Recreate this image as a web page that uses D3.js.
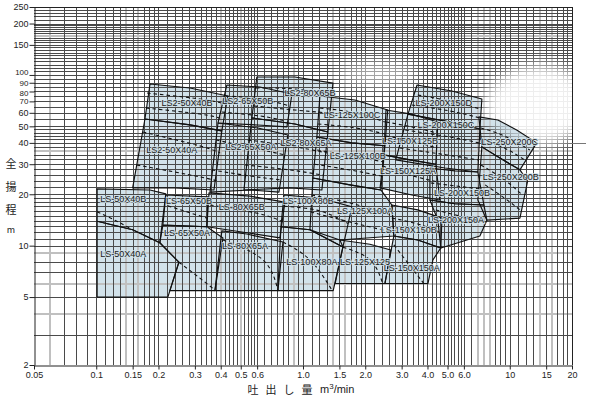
<!DOCTYPE html>
<html><head><meta charset="utf-8">
<script src="https://cdn.jsdelivr.net/npm/d3@7"></script>
<style>body{margin:0;background:#fff}svg{display:block}</style>
</head><body><svg id="c" width="600" height="400"></svg>
<script>
// ---------- axis data ----------
const xTickValues=[0.05,0.1,0.15,0.2,0.3,0.4,0.5,0.6,1,1.5,2,3,4,5,6,10,15,20];
const xTickLabels=["0.05","0.1","0.15","0.2","0.3","0.4","0.5","0.6","1.0","1.5","2.0","3.0","4.0","5.0","6.0","10","15","20"];
const yTickValues=[2,5,10,20,30,40,50,60,70,80,90,100,150,200,250];
const xGridBlack=[0.07,0.08,0.09,0.1,0.11,0.12,0.13,0.15,0.17,0.18,0.19,0.2,0.22,0.24,0.26,0.28,0.3,0.32,0.34,0.36,0.38,0.42,0.44,0.46,0.48,0.52,0.54,0.56,0.58,0.6,0.65,0.7,0.75,0.8,0.85,0.95,1,1.1,1.2,1.3,1.5,1.7,1.8,1.9,2,2.2,2.4,2.6,2.8,3,3.2,3.4,3.6,3.8,4,4.2,4.4,4.6,4.8,5,5.2,5.4,5.6,5.8,6,6.5,8.5,9,9.5,10,11,12,13,15,17,18,19];
const xGridGray=[0.06,0.14,0.16,0.4,0.5,0.9,1.4,1.6,7,7.5,8,14,16];
const yGridBlack=[3,5,7,8,10,11,12,13,14,15,16,17,18,19,20,22,24,26,28,30,32,34,38,40,42,44,46,48,50,55,60,65,70,75,80,85,90,95,100,105,110,115,120,125,130,135,140,145,150,155,160,165,175,180,185,190,195,200,210,220,230,240];
const yGridGray=[4,6,9,36,170];

// ---------- pump zones (Q m3/min, H m) ----------
const zoneNames=["LS-50X40A","LS-50X40B","LS-65X50B","LS-65X50A","LS-80X65B","LS-80X65A","LS-100X80A","LS-100X80B","LS-125X125","LS-150X150A","LS-150X150B",
"LS-125X100C","LS-125X100B","LS-125X100A","LS2-50X40B","LS2-50X40A","LS2-65X50B","LS2-65X50A","LS2-80X65B","LS2-80X65A",
"LS-150X125B","LS-150X125A","LS-200X150D","LS-200X150C","LS-200X150B","LS-200X150A","LS-250X200C","LS-250X200B"];
const zonePolygons=[
 [[0.101,5.0],[0.101,13.9],[0.15,12.4],[0.203,10.4],[0.251,8.0],[0.222,5.0]],
 [[0.101,13.9],[0.101,21.5],[0.182,21.2],[0.217,20.1],[0.203,10.4],[0.15,12.4]],
 [[0.217,19.8],[0.347,19.3],[0.343,12.9],[0.21,13.2]],
 [[0.21,13.2],[0.343,12.9],[0.41,11.1],[0.375,5.45],[0.227,5.45],[0.251,8.0],[0.203,10.4]],
 [[0.351,20.4],[0.554,19.5],[0.818,18.0],[0.773,11.1],[0.535,11.9],[0.343,12.9]],
 [[0.405,12.2],[0.535,11.7],[0.8,10.5],[0.756,5.45],[0.375,5.45]],
 [[0.782,12.9],[1.08,12.4],[1.56,9.83],[1.4,5.45],[0.756,5.45]],
 [[0.809,19.8],[1.207,19.0],[1.724,16.9],[1.56,9.83],[1.08,12.4],[0.782,12.9]],
 [[1.508,10.8],[2.107,10.2],[2.66,9.44],[2.49,6.0],[1.43,6.0],[1.56,9.83]],
 [[2.75,11.4],[3.59,10.8],[4.64,9.7],[4.25,8.25],[4.02,6.0],[2.49,6.0]],
 [[2.69,17.3],[3.59,16.2],[4.7,14.5],[4.64,9.7],[3.59,10.8],[2.75,11.4]],
 [[1.207,75.3],[1.782,71.3],[2.57,62.3],[2.49,38.5],[1.724,40.0],[1.167,43.3]],
 [[1.167,43.3],[1.724,40.0],[2.49,38.5],[2.38,21.2],[1.686,22.7],[1.117,24.9]],
 [[1.117,24.9],[1.686,22.7],[2.38,21.2],[2.69,17.3],[2.75,11.4],[1.508,10.8],[1.08,12.4]],
 [[0.182,88.5],[0.284,83.8],[0.433,75.3],[0.405,47.0],[0.284,51.0],[0.172,55.2]],
 [[0.172,55.2],[0.284,51.0],[0.405,47.0],[0.371,21.2],[0.24,21.8],[0.15,21.8]],
 [[0.428,87.3],[0.619,85.0],[0.884,77.3],[0.836,49.6],[0.605,50.9],[0.388,52.3]],
 [[0.388,52.3],[0.605,48.9],[0.845,44.5],[0.765,20.6],[0.554,21.2],[0.355,20.6]],
 [[0.598,97.3],[0.914,97.3],[1.396,89.6],[1.32,46.3],[0.914,51.6],[0.566,56.0]],
 [[0.566,56.0],[0.914,51.6],[1.32,46.3],[1.234,21.2],[0.864,21.8],[0.518,21.2]],
 [[2.52,62.3],[3.36,58.9],[4.49,53.0],[4.39,30.0],[3.29,31.8],[2.46,34.0]],
 [[2.46,34.0],[3.29,31.8],[4.39,30.0],[4.59,18.5],[3.36,19.8],[2.36,21.8]],
 [[3.56,87.3],[5.25,80.5],[7.33,72.3],[7.17,48.2],[5.13,53.0],[3.22,58.9]],
 [[3.22,58.9],[5.13,53.0],[7.17,48.2],[7.01,27.0],[4.86,28.5],[2.81,31.8]],
 [[4.11,28.5],[5.43,27.4],[7.01,27.0],[7.5,17.3],[5.43,17.6],[4.11,18.5]],
 [[4.11,18.5],[5.43,17.6],[7.5,17.3],[7.75,14.1],[7.17,11.4],[4.64,9.7],[4.49,14.1]],
 [[7.09,56.8],[8.76,54.5],[10.8,47.6],[13.5,40.0],[11.2,27.8],[8.96,32.6],[7.33,37.9]],
 [[7.33,37.9],[8.96,32.6],[11.2,27.8],[12.2,23.9],[11.2,14.5],[7.75,14.1],[7.01,18.5]]
];
const zoneLabelPos=[[0.135,8.95],[0.135,18.8],[0.281,18.3],[0.275,11.9],[0.506,16.9],[0.524,9.95],[1.104,8.03],[1.06,18.3],[1.993,8.03],[3.36,7.41],[3.25,12.36],
[1.724,58.3],[1.84,33.5],[1.993,15.97],[0.275,68.5],[0.232,36.35],[0.541,70.3],[0.56,37.9],[1.08,78.3],[1.033,40.0],
[3.289,41.0],[3.22,27.4],[4.8,68.5],[4.91,50.9],[5.87,20.4],[5.49,14.14],[10.01,40.5],[10.12,25.3]];
const dashedLines=[
 [[0.101,15.8],[0.123,14.1],[0.15,12.4]],
 [[0.251,8.0],[0.307,6.65],[0.375,5.5]],
 [[0.222,17.1],[0.343,14.5]],
 [[0.355,17.3],[0.6,15.5],[0.8,13.8]],
 [[0.41,10.8],[0.64,8.25],[0.756,5.5]],
 [[0.8,10.5],[1.08,8.25],[1.38,5.5]],
 [[0.81,17.0],[1.2,16.0],[1.65,13.5]],
 [[1.56,9.8],[2.11,8.25],[2.43,6.0]],
 [[2.75,10.1],[3.36,7.4],[3.84,6.0]],
 [[2.69,14.5],[3.59,13.4],[4.59,12.0]],
 [[1.207,64],[1.78,60],[2.49,53]],
 [[1.18,51.6],[1.78,49],[2.49,45.1]],
 [[1.17,36.35],[1.724,33.5],[2.47,30.9]],
 [[1.14,30.0],[1.686,27.76],[2.4,25.6]],
 [[1.1,19.8],[1.686,17.8],[2.63,15.15]],
 [[1.09,15.76],[1.686,13.76],[2.69,12.0]],
 [[0.176,78.3],[0.317,72.3],[0.424,67.5]],
 [[0.174,64.0],[0.317,59.0],[0.41,55.2]],
 [[0.168,46.3],[0.317,38.4],[0.397,34.9]],
 [[0.157,29.7],[0.317,25.3],[0.383,23.9]],
 [[0.424,75.3],[0.619,72.3],[0.864,65.8]],
 [[0.405,60.6],[0.619,57.5],[0.82,53.8]],
 [[0.38,41.6],[0.54,37.9],[0.82,34.0]],
 [[0.362,27.76],[0.554,25.6],[0.782,24.26]],
 [[0.592,83.8],[0.914,82.7],[1.38,76.3]],
 [[0.58,65.8],[0.914,62.3],[1.35,59.8]],
 [[0.54,41.6],[0.864,38.4],[1.31,34.9]],
 [[0.524,29.7],[0.864,27.76],[1.245,25.9]],
 [[2.52,53.0],[3.36,49.6],[4.44,45.7]],
 [[2.52,43.9],[3.36,41.0],[4.44,37.3]],
 [[2.43,29.3],[3.29,25.9],[4.49,23.6]],
 [[3.59,76.3],[5.13,70.3],[7.25,63.1]],
 [[3.36,66.7],[5.13,61.5],[7.17,56.0]],
 [[3.12,47.6],[5.13,43.3],[7.09,40.0]],
 [[2.94,37.3],[4.97,34.0],[7.01,31.8]],
 [[4.15,23.3],[5.43,22.4],[7.17,21.5]],
 [[4.39,16.2],[5.74,14.9],[7.59,13.76]],
 [[7.25,48.9],[9.43,43.9],[12.5,36.35]],
 [[7.17,42.7],[9.43,37.3],[11.8,31.8]],
 [[7.25,29.7],[9.43,24.26],[11.5,19.8]],
 [[7.6,22.7],[9.43,19.0],[11.2,16.2]]
];

// ---------- drawing ----------
const svg=d3.select("#c");
const x=d3.scaleLog().domain([0.05,20]).range([34,572]);
const y=d3.scaleLog().domain([2,250]).range([365,7]);
const px=v=>Math.round(x(v))+0.5, py=v=>Math.round(y(v))+0.5;
const line=d3.line().x(d=>x(d[0])).y(d=>y(d[1]));
const dline=d3.line().x(d=>x(d[0])).y(d=>y(d[1])).curve(d3.curveNatural);

const defs=svg.append("defs");
const f=defs.append("filter").attr("id","blur").attr("x","-50%").attr("y","-50%").attr("width","200%").attr("height","200%");
f.append("feGaussianBlur").attr("stdDeviation",8);
const m=defs.append("mask").attr("id","gm").attr("maskUnits","userSpaceOnUse").attr("x",0).attr("y",0).attr("width",600).attr("height",400);
m.append("rect").attr("width",600).attr("height",400).attr("fill","#fff");
m.append("ellipse").attr("cx",540).attr("cy",105).attr("rx",55).attr("ry",40).attr("fill","#000").attr("opacity",0.9).attr("filter","url(#blur)");
m.append("ellipse").attr("cx",378).attr("cy",74).attr("rx",40).attr("ry",13).attr("fill","#000").attr("opacity",0.55).attr("filter","url(#blur)");

// fills
svg.append("g").selectAll("path").data(zonePolygons).join("path")
 .attr("d",d=>line(d)+"Z").attr("fill","#d2e2ea").attr("stroke","none");

// grid
const g=svg.append("g").attr("mask","url(#gm)").attr("shape-rendering","crispEdges");
g.append("g").selectAll("line").data(xGridGray).join("line").attr("x1",d=>Math.round(x(d))).attr("x2",d=>Math.round(x(d))).attr("y1",y(250)).attr("y2",y(2)).attr("stroke","#c0c0c0").attr("stroke-width",2);
g.append("g").selectAll("line").data(yGridGray).join("line").attr("y1",d=>Math.round(y(d))).attr("y2",d=>Math.round(y(d))).attr("x1",x(0.05)).attr("x2",x(20)).attr("stroke","#c0c0c0").attr("stroke-width",2);
g.append("g").selectAll("line").data(xGridBlack).join("line").attr("x1",d=>px(d)).attr("x2",d=>px(d)).attr("y1",y(250)).attr("y2",y(2)).attr("stroke","#4a4a4a").attr("stroke-width",1);
g.append("g").selectAll("line").data(yGridBlack).join("line").attr("y1",d=>py(d)).attr("y2",d=>py(d)).attr("x1",x(0.05)).attr("x2",x(20)).attr("stroke","#4a4a4a").attr("stroke-width",1);
// frame
svg.append("line").attr("x1",x(0.05)).attr("x2",x(20)).attr("y1",py(250)).attr("y2",py(250)).attr("stroke","#222");
svg.append("line").attr("x1",px(20)).attr("x2",px(20)).attr("y1",y(250)).attr("y2",y(2)).attr("stroke","#222");
svg.append("line").attr("x1",x(20)).attr("x2",x(20)+14).attr("y1",py(40)).attr("y2",py(40)).attr("stroke","#777");

// axes
const xa=svg.append("g").attr("transform",`translate(0,${Math.round(y(2))+0.5})`)
 .call(d3.axisBottom(x).tickValues(xTickValues).tickFormat((d,i)=>xTickLabels[i]).tickSize(4).tickSizeOuter(0).tickPadding(2));
const ya=svg.append("g").attr("transform",`translate(${Math.round(x(0.05))+0.5},0)`)
 .call(d3.axisLeft(y).tickValues(yTickValues).tickFormat(d3.format("d")).tickSize(5).tickSizeOuter(0).tickPadding(1));
[xa,ya].forEach(a=>{a.select(".domain").attr("stroke","#222");a.selectAll(".tick line").attr("stroke","#222");
 a.selectAll("text").attr("fill","#222").style("font-family","Liberation Sans, Arial, sans-serif").style("font-size","9px");});
// tight cluster 100/90/80: slightly smaller and spread so they don't collide
ya.selectAll(".tick").filter(d=>d>=70&&d<=100).select("text").style("font-size","8px")
 .attr("dy",d=>d===100?"-0.05em":d===80?"0.5em":"0.32em");

// zone outlines and dashed lines
svg.append("g").selectAll("path").data(zonePolygons).join("path")
 .attr("d",d=>line(d)+"Z").attr("fill","none").attr("stroke","#111").attr("stroke-width",1.15).attr("stroke-linejoin","round");
svg.append("g").selectAll("path").data(dashedLines).join("path")
 .attr("d",d=>dline(d)).attr("fill","none").attr("stroke","#111").attr("stroke-width",1.1).attr("stroke-dasharray","3.5,3");

// zone labels
svg.append("g").selectAll("text").data(zoneNames).join("text")
 .attr("x",(d,i)=>x(zoneLabelPos[i][0])).attr("y",(d,i)=>y(zoneLabelPos[i][1]))
 .attr("text-anchor","middle").attr("dominant-baseline","central")
 .style("font-family","Liberation Sans, Arial, sans-serif").style("font-size","9px")
 .attr("fill","#1a1a1a").attr("stroke","#d2e2ea").attr("stroke-width",2).attr("stroke-opacity",0.8).attr("paint-order","stroke")
 .text(d=>d);

// axis titles
const yTitle=["全","揚","程"];
svg.append("g").selectAll("text").data(yTitle).join("text")
 .attr("x",11).attr("y",(d,i)=>163+i*23).attr("text-anchor","middle").attr("dominant-baseline","central")
 .style("font-family","Noto Sans CJK JP").style("font-size","11px").attr("fill","#222").text(d=>d);
svg.append("text").attr("x",11).attr("y",229).attr("text-anchor","middle").attr("dominant-baseline","central")
 .style("font-family","Noto Sans CJK JP").style("font-size","9px").attr("fill","#222").text("m");
const xTitle=["吐","出","し","量"];
svg.append("g").selectAll("text").data(xTitle).join("text")
 .attr("x",(d,i)=>253+i*18).attr("y",389).attr("text-anchor","middle").attr("dominant-baseline","central")
 .style("font-family","Noto Sans CJK JP").style("font-size","11px").attr("fill","#222").text(d=>d);
const u=svg.append("text").attr("x",320).attr("y",393).style("font-family","Liberation Sans, Arial, sans-serif").style("font-size","11px").attr("fill","#222");
u.append("tspan").text("m");
u.append("tspan").attr("dy",-4).style("font-size","8px").text("3");
u.append("tspan").attr("dy",4).text("/min");
</script></body></html>
